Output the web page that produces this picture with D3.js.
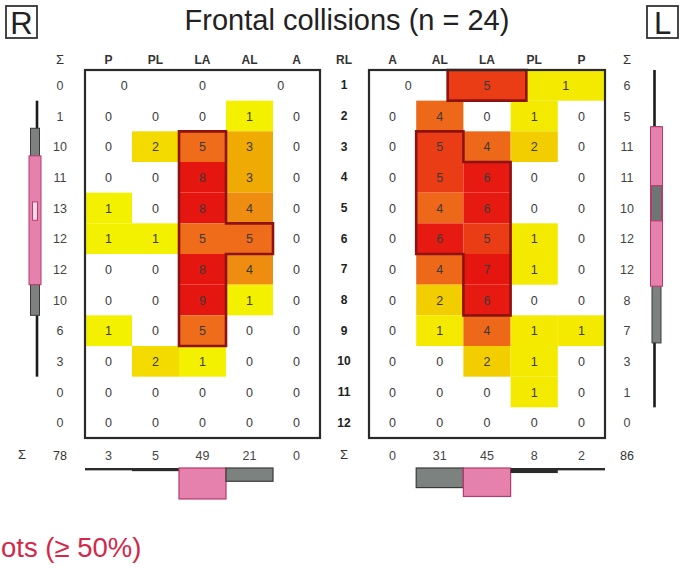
<!DOCTYPE html>
<html>
<head>
<meta charset="utf-8">
<script src="https://cdn.jsdelivr.net/npm/d3@7"></script>
<style>
  body { margin: 0; background: #fff; }
  svg { display: block; }
  text { font-family: "Liberation Sans", Arial, Helvetica, sans-serif; }
</style>
</head>
<body>
<svg id="chart" width="681" height="582"></svg>
<script>
// ---------------- data ----------------
const title = "Frontal collisions (n = 24)";
const ribLevels = d3.range(1, 13);
const leftCols = ["P", "PL", "LA", "AL", "A"];
const rightCols = ["A", "AL", "LA", "PL", "P"];

// rib 1 is recorded in three segments only
const rib1SegmentColumn = { posterior: "P", lateral: "LA", anterior: "A" };
const leftRib1 = { posterior: 0, lateral: 0, anterior: 0 };
const rightRib1 = { anterior: 0, lateral: 5, posterior: 1 };

// ribs 2-12, right side of the thorax (columns P, PL, LA, AL, A)
const leftCounts = [
  [0, 0, 0, 1, 0],
  [0, 2, 5, 3, 0],
  [0, 0, 8, 3, 0],
  [1, 0, 8, 4, 0],
  [1, 1, 5, 5, 0],
  [0, 0, 8, 4, 0],
  [0, 0, 9, 1, 0],
  [1, 0, 5, 0, 0],
  [0, 2, 1, 0, 0],
  [0, 0, 0, 0, 0],
  [0, 0, 0, 0, 0]
];
// ribs 2-12, left side of the thorax (columns A, AL, LA, PL, P)
const rightCounts = [
  [0, 4, 0, 1, 0],
  [0, 5, 4, 2, 0],
  [0, 5, 6, 0, 0],
  [0, 4, 6, 0, 0],
  [0, 6, 5, 1, 0],
  [0, 4, 7, 1, 0],
  [0, 2, 6, 0, 0],
  [0, 1, 4, 1, 1],
  [0, 0, 2, 1, 0],
  [0, 0, 0, 1, 0],
  [0, 0, 0, 0, 0]
];

// hot spot cells [rib, column or rib-1 segment]
const leftHot = [[3, "LA"], [4, "LA"], [5, "LA"], [6, "LA"], [7, "LA"], [8, "LA"], [9, "LA"], [6, "AL"]];
const rightHot = [[1, "lateral"], [3, "AL"], [4, "AL"], [5, "AL"], [6, "AL"],
                  [4, "LA"], [5, "LA"], [6, "LA"], [7, "LA"], [8, "LA"]];

// spread of fractures along the rib levels
const leftProfile = { range: [1.5, 10.5], outer: [2.4, 8.5], inner: [3.3, 7.5], centre: [4.8, 5.4] };
const rightProfile = { range: [0.5, 11.5], outer: [2.35, 9.4], inner: [2.35, 7.55], centre: [4.27, 5.42] };

const hotLabel = "ots (\u2265 50%)";

// ---------------- drawing ----------------
const svg = d3.select("#chart");

const rowBand = d3.scaleBand().domain(ribLevels).range([70, 438]);
const ribPos = d3.scaleLinear().domain([0.5, 12.5]).range([70, 438]);
const rowY = r => rowBand(r) + rowBand.bandwidth() / 2;
const headerY = 60;
const sumRowY = 455;
const barTop = 469;

const heat = d3.scaleLinear()
  .domain([0.11, 0.29, 0.335, 0.45, 0.56, 0.72, 0.88])
  .range(["#f4f100", "#f2cd00", "#f0a904", "#ef8c12", "#ee6b1a", "#ea3b16", "#e5150f"])
  .clamp(true);

const barH = d3.scaleLinear().domain([0, 50]).range([0, 31.6]);

// title and side markers
svg.append("text").attr("x", 347).attr("y", 30).attr("text-anchor", "middle")
  .attr("font-size", 29).attr("fill", "#222").text(title);

[["R", 6], ["L", 647]].forEach(([t, x0]) => {
  svg.append("rect").attr("x", x0).attr("y", 6).attr("width", 31).attr("height", 32)
    .attr("fill", "#fff").attr("stroke", "#333").attr("stroke-width", 1.8);
  svg.append("text").attr("x", x0 + 15.5).attr("y", 34).attr("text-anchor", "middle")
    .attr("font-size", 31).attr("fill", "#222").text(t);
});

// rib level column between the panels
const midX = 344;
svg.append("text").attr("x", midX).attr("y", headerY + 4).attr("text-anchor", "middle")
  .attr("font-size", 12).attr("font-weight", "bold").attr("fill", "#333").text("RL");
svg.selectAll("text.rl").data(ribLevels).join("text").attr("class", "rl")
  .attr("x", midX).attr("y", d => rowY(d) + 4).attr("text-anchor", "middle")
  .attr("font-size", 12).attr("font-weight", "bold").attr("fill", "#222").text(d => d);
svg.append("text").attr("x", midX).attr("y", sumRowY + 4).attr("text-anchor", "middle")
  .attr("font-size", 13).attr("fill", "#333").text("\u03A3");
svg.append("text").attr("x", 22).attr("y", sumRowY + 4).attr("text-anchor", "middle")
  .attr("font-size", 13).attr("fill", "#333").text("\u03A3");

const panels = [
  { cols: leftCols, rib1Order: ["posterior", "lateral", "anterior"], rib1: leftRib1,
    counts: leftCounts, hot: leftHot, range: [85, 320], sumX: 60,
    profile: leftProfile, profileX: 37, outward: -1, centreFill: "#f6dbe7" },
  { cols: rightCols, rib1Order: ["anterior", "lateral", "posterior"], rib1: rightRib1,
    counts: rightCounts, hot: rightHot, range: [369, 605], sumX: 627,
    profile: rightProfile, profileX: 654.5, outward: 1, centreFill: "#6c7672" }
];

panels.forEach(p => {
  const g = svg.append("g");
  const x = d3.scaleBand().domain(p.cols).range(p.range);
  const xSeg = d3.scaleBand().domain(p.rib1Order).range(p.range);

  const rib1Cells = p.rib1Order.map(s => ({ rib: 1, key: s, col: rib1SegmentColumn[s], v: p.rib1[s], x0: xSeg(s), w: xSeg.bandwidth() }));
  const gridCells = p.counts.flatMap((vals, i) => vals.map((v, j) => ({ rib: i + 2, key: p.cols[j], col: p.cols[j], v, x0: x(p.cols[j]), w: x.bandwidth() })));
  const cells = rib1Cells.concat(gridCells);
  const vmax = d3.max(cells, d => d.v);
  const total = d3.sum(cells, d => d.v);

  // heat cells
  g.selectAll("rect.cell").data(cells.filter(d => d.v > 0)).join("rect").attr("class", "cell")
    .attr("x", d => d.x0).attr("y", d => rowBand(d.rib))
    .attr("width", d => d.w).attr("height", rowBand.bandwidth())
    .attr("fill", d => heat(d.v / vmax));

  // hot spot outline
  const hotSet = new Set(p.hot.map(([r, k]) => r + "|" + k));
  const isHot = (r, k) => hotSet.has(r + "|" + k);
  const path = d3.path();
  cells.filter(c => isHot(c.rib, c.key)).forEach(c => {
    const y0 = rowBand(c.rib), y1 = y0 + rowBand.bandwidth(), x0 = c.x0, x1 = c.x0 + c.w;
    if (c.rib === 1) { path.rect(x0, y0, c.w, y1 - y0); return; }
    const j = p.cols.indexOf(c.key);
    if (!(c.rib > 2 && isHot(c.rib - 1, c.key))) { path.moveTo(x0, y0); path.lineTo(x1, y0); }
    if (!(c.rib < 12 && isHot(c.rib + 1, c.key))) { path.moveTo(x0, y1); path.lineTo(x1, y1); }
    if (!(j > 0 && isHot(c.rib, p.cols[j - 1]))) { path.moveTo(x0, y0); path.lineTo(x0, y1); }
    if (!(j < p.cols.length - 1 && isHot(c.rib, p.cols[j + 1]))) { path.moveTo(x1, y0); path.lineTo(x1, y1); }
  });
  g.append("path").attr("d", path.toString()).attr("fill", "none")
    .attr("stroke", "#8f1212").attr("stroke-width", 2.6).attr("stroke-linecap", "square");

  // panel frame
  g.append("rect").attr("x", p.range[0]).attr("y", 70)
    .attr("width", p.range[1] - p.range[0]).attr("height", 368)
    .attr("fill", "none").attr("stroke", "#2a2a2a").attr("stroke-width", 2.2);

  // cell values
  g.selectAll("text.val").data(cells).join("text").attr("class", "val")
    .attr("x", d => d.x0 + d.w / 2).attr("y", d => rowY(d.rib) + 4.5)
    .attr("text-anchor", "middle").attr("font-size", 12.5).attr("fill", "#3a3a3a")
    .text(d => d.v);

  // column headers
  g.selectAll("text.hdr").data(p.cols).join("text").attr("class", "hdr")
    .attr("x", d => x(d) + x.bandwidth() / 2).attr("y", headerY + 4)
    .attr("text-anchor", "middle").attr("font-size", 12).attr("font-weight", "bold")
    .attr("fill", "#333").text(d => d);
  g.append("text").attr("x", p.sumX).attr("y", headerY + 4).attr("text-anchor", "middle")
    .attr("font-size", 13).attr("fill", "#333").text("\u03A3");

  // row sums
  g.selectAll("text.rs").data(ribLevels).join("text").attr("class", "rs")
    .attr("x", p.sumX).attr("y", d => rowY(d) + 4.5).attr("text-anchor", "middle")
    .attr("font-size", 12.5).attr("fill", "#444")
    .text(r => d3.sum(cells.filter(c => c.rib === r), c => c.v));

  // column sums and grand total
  const colSums = p.cols.map(k => ({ key: k, s: d3.sum(cells.filter(c => c.col === k), c => c.v) }));
  g.selectAll("text.cs").data(colSums).join("text").attr("class", "cs")
    .attr("x", d => x(d.key) + x.bandwidth() / 2).attr("y", sumRowY + 4.5)
    .attr("text-anchor", "middle").attr("font-size", 12.5).attr("fill", "#444").text(d => d.s);
  g.append("text").attr("x", p.sumX).attr("y", sumRowY + 4.5).attr("text-anchor", "middle")
    .attr("font-size", 12.5).attr("fill", "#333").text(total);

  // column profile hanging under the panel
  const nz = colSums.filter(d => d.s > 0);
  const xa = d3.min(nz, d => x(d.key)), xb = d3.max(nz, d => x(d.key) + x.bandwidth());
  g.append("rect").attr("x", xa).attr("y", barTop - 1).attr("width", xb - xa).attr("height", 2.2).attr("fill", "#1b1b1b");
  g.selectAll("rect.cbar").data(nz).join("rect").attr("class", "cbar")
    .attr("x", d => x(d.key)).attr("y", barTop - 1)
    .attr("width", x.bandwidth()).attr("height", d => Math.max(2.2, barH(d.s)))
    .attr("fill", d => d.s / total >= 0.5 ? "#e680ad" : d.s / total >= 0.2 ? "#7c8280" : "#2b2b2b")
    .attr("stroke", d => d.s / total >= 0.5 ? "#b83a6c" : d.s / total >= 0.2 ? "#3a3a3a" : "none")
    .attr("stroke-width", 1.2);

  // rib-level profile beside the panel
  const pr = p.profile;
  const cx = p.profileX + p.outward * 2;
  const vBox = (span, w, fill, stroke) => g.append("rect")
    .attr("x", cx - w / 2).attr("width", w)
    .attr("y", ribPos(span[0])).attr("height", ribPos(span[1]) - ribPos(span[0]))
    .attr("fill", fill).attr("stroke", stroke).attr("stroke-width", stroke === "none" ? 0 : 1);
  g.append("rect").attr("x", p.profileX - 1.3).attr("width", 2.6)
    .attr("y", ribPos(pr.range[0])).attr("height", ribPos(pr.range[1]) - ribPos(pr.range[0]))
    .attr("fill", "#1b1b1b");
  vBox(pr.outer, 9, "#7c8280", "#3a3a3a");
  vBox(pr.inner, 12, "#e680ad", "#b83a6c");
  vBox(pr.centre, p.outward < 0 ? 5 : 10, p.centreFill, "#b83a6c");
});

// legend caption
svg.append("text").attr("x", 1).attr("y", 557).attr("text-anchor", "start")
  .attr("font-size", 27.5).attr("fill", "#d4284a").text(hotLabel);
</script>
</body>
</html>
